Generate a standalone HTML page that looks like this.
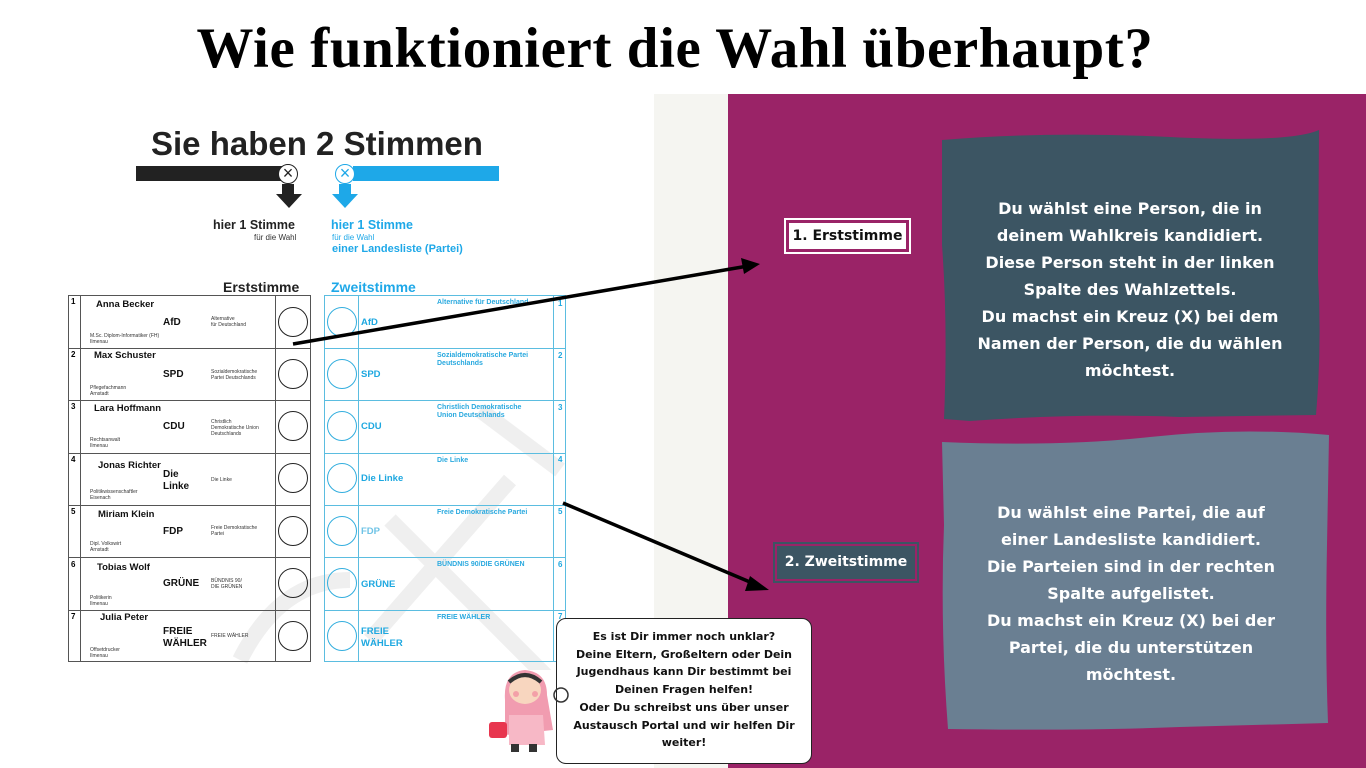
<!DOCTYPE html>
<html><head><meta charset="utf-8"><style>
*{margin:0;padding:0;box-sizing:border-box}
body{width:1366px;height:768px;position:relative;overflow:hidden;background:#fff;font-family:"Liberation Sans",sans-serif}
.a{position:absolute}
.t{font-family:"DejaVu Sans","Liberation Sans",sans-serif;font-weight:bold}
.row{position:absolute;left:68px;width:243px;height:52px;border-top:1.5px solid #555}
.rrow{position:absolute;left:324px;width:242px;height:52px;border-top:1.5px solid #5bbde0}
.circ{position:absolute;width:30px;height:30px;border:1.3px solid #222;border-radius:50%}
.bc{position:absolute;width:30px;height:30px;border:1.3px solid #33aede;border-radius:50%}
.nm{position:absolute;font-size:9.5px;font-weight:bold;color:#111}
.pt{position:absolute;font-size:10px;font-weight:bold;color:#111;line-height:12px}
.sm{position:absolute;font-size:5px;color:#333;line-height:6px}
.bl{position:absolute;font-size:9.5px;font-weight:bold;color:#1ea8e0;line-height:12px}
.bs{position:absolute;font-size:7px;font-weight:bold;color:#29a9df;line-height:8px}
.num{position:absolute;font-size:8px;font-weight:bold}
</style></head><body>
<div class="a" style="left:-8px;top:16px;width:1366px;text-align:center;font-family:'Liberation Serif',serif;font-weight:bold;font-size:57px;letter-spacing:0.6px;color:#000">Wie funktioniert die Wahl überhaupt?</div>
<div class="a" style="left:654px;top:94px;width:74px;height:674px;background:#f5f5f1"></div>
<div class="a" style="left:728px;top:94px;width:638px;height:674px;background:#9a2367"></div>

<div class="a" style="left:151px;top:125px;font-size:33px;font-weight:bold;color:#222">Sie haben 2 Stimmen</div>
<div class="a" style="left:136px;top:166px;width:146px;height:15px;background:#222"></div>
<div class="a" style="left:278px;top:164px;width:20px;height:20px;border-radius:50%;background:#fff;border:1.5px solid #222;font-size:18px;line-height:16px;text-align:center;color:#222">×</div>
<div class="a" style="left:282px;top:184px;width:12px;height:10px;background:#222"></div>
<div class="a" style="left:276px;top:194px;width:0;height:0;border-left:13px solid transparent;border-right:13px solid transparent;border-top:14px solid #222"></div>
<div class="a" style="left:353px;top:166px;width:146px;height:15px;background:#1ea8e8"></div>
<div class="a" style="left:335px;top:164px;width:20px;height:20px;border-radius:50%;background:#fff;border:1.5px solid #1ea8e8;font-size:18px;line-height:16px;text-align:center;color:#1ea8e8">×</div>
<div class="a" style="left:339px;top:184px;width:12px;height:10px;background:#1ea8e8"></div>
<div class="a" style="left:332px;top:194px;width:0;height:0;border-left:13px solid transparent;border-right:13px solid transparent;border-top:14px solid #1ea8e8"></div>
<div class="a" style="left:213px;top:218px;font-size:12.5px;font-weight:bold;color:#222">hier 1 Stimme</div>
<div class="a" style="left:254px;top:233px;font-size:8px;color:#333">für die Wahl</div>
<div class="a" style="left:331px;top:218px;font-size:12.5px;font-weight:bold;color:#1ea8e8">hier 1 Stimme</div>
<div class="a" style="left:332px;top:233px;font-size:8px;color:#1ea8e8">für die Wahl</div>
<div class="a" style="left:332px;top:243px;font-size:11px;font-weight:bold;color:#1ea8e8">einer Landesliste (Partei)</div>
<div class="a" style="left:223px;top:279px;font-size:14px;font-weight:bold;color:#222">Erststimme</div>
<div class="a" style="left:331px;top:279px;font-size:14px;font-weight:bold;color:#1ea8e8">Zweitstimme</div>

<svg class="a" style="left:220px;top:380px" width="360" height="290"><g stroke="#efefef" stroke-width="16" fill="none"><path d="M20 280 Q60 200 130 200"/><path d="M150 260 L290 100"/><path d="M170 140 L330 300"/><path d="M260 30 L340 90"/></g></svg>

<div class="a" style="left:68px;top:295px;width:243px;height:367px;border:1.5px solid #555"></div>
<div class="a" style="left:80px;top:295px;width:1px;height:367px;background:#555"></div>
<div class="a" style="left:275px;top:295px;width:1px;height:367px;background:#555"></div>
<div class="a" style="left:324px;top:295px;width:242px;height:367px;border:1.5px solid #5bbde0"></div>
<div class="a" style="left:358px;top:295px;width:1px;height:367px;background:#5bbde0"></div>
<div class="a" style="left:553px;top:295px;width:1px;height:367px;background:#5bbde0"></div>

<div class="row" style="top:348px"></div><div class="row" style="top:400px"></div><div class="row" style="top:453px"></div><div class="row" style="top:505px"></div><div class="row" style="top:557px"></div><div class="row" style="top:610px"></div>
<div class="rrow" style="top:348px"></div><div class="rrow" style="top:400px"></div><div class="rrow" style="top:453px"></div><div class="rrow" style="top:505px"></div><div class="rrow" style="top:557px"></div><div class="rrow" style="top:610px"></div>

<div class="num" style="left:71px;top:297px">1</div><div class="nm" style="left:96px;top:299px">Anna Becker</div><div class="pt" style="left:163px;top:317px">AfD</div><div class="sm" style="left:211px;top:316px">Alternative<br>für Deutschland</div><div class="sm" style="left:90px;top:333px">M.Sc. Diplom-Informatiker (FH)<br>Ilmenau</div>
<div class="circ" style="left:278px;top:307px"></div><div class="bc" style="left:327px;top:307px"></div><div class="bl" style="left:361px;top:317px">AfD</div><div class="bs" style="left:437px;top:299px">Alternative für Deutschland</div><div class="num" style="left:558px;top:299px;color:#1ea8e0">1</div>
<div class="num" style="left:71px;top:350px">2</div><div class="nm" style="left:94px;top:350px">Max Schuster</div><div class="pt" style="left:163px;top:369px">SPD</div><div class="sm" style="left:211px;top:369px">Sozialdemokratische<br>Partei Deutschlands</div><div class="sm" style="left:90px;top:385px">Pflegefachmann<br>Arnstadt</div>
<div class="circ" style="left:278px;top:359px"></div><div class="bc" style="left:327px;top:359px"></div><div class="bl" style="left:361px;top:369px">SPD</div><div class="bs" style="left:437px;top:352px">Sozialdemokratische Partei<br>Deutschlands</div><div class="num" style="left:558px;top:351px;color:#1ea8e0">2</div>
<div class="num" style="left:71px;top:402px">3</div><div class="nm" style="left:94px;top:403px">Lara Hoffmann</div><div class="pt" style="left:163px;top:421px">CDU</div><div class="sm" style="left:211px;top:419px">Christlich<br>Demokratische Union<br>Deutschlands</div><div class="sm" style="left:90px;top:437px">Rechtsanwalt<br>Ilmenau</div>
<div class="circ" style="left:278px;top:411px"></div><div class="bc" style="left:327px;top:411px"></div><div class="bl" style="left:361px;top:421px">CDU</div><div class="bs" style="left:437px;top:404px">Christlich Demokratische<br>Union Deutschlands</div><div class="num" style="left:558px;top:403px;color:#1ea8e0">3</div>
<div class="num" style="left:71px;top:455px">4</div><div class="nm" style="left:98px;top:460px">Jonas Richter</div><div class="pt" style="left:163px;top:469px">Die<br>Linke</div><div class="sm" style="left:211px;top:477px">Die Linke</div><div class="sm" style="left:90px;top:489px">Politikwissenschaftler<br>Eisenach</div>
<div class="circ" style="left:278px;top:463px"></div><div class="bc" style="left:327px;top:463px"></div><div class="bl" style="left:361px;top:473px">Die Linke</div><div class="bs" style="left:437px;top:457px">Die Linke</div><div class="num" style="left:558px;top:455px;color:#1ea8e0">4</div>
<div class="num" style="left:71px;top:507px">5</div><div class="nm" style="left:98px;top:509px">Miriam Klein</div><div class="pt" style="left:163px;top:526px">FDP</div><div class="sm" style="left:211px;top:525px">Freie Demokratische<br>Partei</div><div class="sm" style="left:90px;top:541px">Dipl. Volkswirt<br>Arnstadt</div>
<div class="circ" style="left:278px;top:516px"></div><div class="bc" style="left:327px;top:516px"></div><div class="bl" style="left:361px;top:526px;color:#6fc3e6">FDP</div><div class="bs" style="left:437px;top:509px">Freie Demokratische Partei</div><div class="num" style="left:558px;top:507px;color:#1ea8e0">5</div>
<div class="num" style="left:71px;top:560px">6</div><div class="nm" style="left:97px;top:562px">Tobias Wolf</div><div class="pt" style="left:163px;top:578px">GRÜNE</div><div class="sm" style="left:211px;top:578px">BÜNDNIS 90/<br>DIE GRÜNEN</div><div class="sm" style="left:90px;top:595px">Politikerin<br>Ilmenau</div>
<div class="circ" style="left:278px;top:568px"></div><div class="bc" style="left:327px;top:568px"></div><div class="bl" style="left:361px;top:579px">GRÜNE</div><div class="bs" style="left:437px;top:561px">BÜNDNIS 90/DIE GRÜNEN</div><div class="num" style="left:558px;top:560px;color:#1ea8e0">6</div>
<div class="num" style="left:71px;top:612px">7</div><div class="nm" style="left:100px;top:612px">Julia Peter</div><div class="pt" style="left:163px;top:626px">FREIE<br>WÄHLER</div><div class="sm" style="left:211px;top:633px">FREIE WÄHLER</div><div class="sm" style="left:90px;top:647px">Offsetdrucker<br>Ilmenau</div>
<div class="circ" style="left:278px;top:621px"></div><div class="bc" style="left:327px;top:621px"></div><div class="bl" style="left:361px;top:626px">FREIE<br>WÄHLER</div><div class="bs" style="left:437px;top:614px">FREIE WÄHLER</div><div class="num" style="left:558px;top:612px;color:#1ea8e0">7</div>

<svg class="a" style="left:0;top:0" width="1366" height="768">
<line x1="293" y1="344" x2="748" y2="266" stroke="#000" stroke-width="3.5"/>
<polygon points="760,264 741,258 744,274" fill="#000"/>
<line x1="563" y1="503" x2="757" y2="585" stroke="#000" stroke-width="3.5"/>
<polygon points="769,590 750,576 745,591" fill="#000"/>
</svg>

<div class="a t" style="left:784px;top:218px;width:127px;height:36px;border:2px solid #fff;padding:2px"><div style="width:100%;height:100%;background:#fff;border:1.5px solid #9a2367;font-size:14px;line-height:27px;text-align:center;color:#111">1. Erststimme</div></div>
<div class="a t" style="left:773px;top:542px;width:146px;height:41px;border:2px solid #3c5563;padding:2px"><div style="width:100%;height:100%;background:#3c5563;font-size:14px;line-height:33px;text-align:center;color:#fff">2. Zweitstimme</div></div>

<svg class="a" style="left:930px;top:125px" width="410" height="615">
<path d="M12 15 Q120 6 240 12 T389 5 L388 150 Q392 220 386 290 L250 292 Q150 288 40 296 L14 294 Q18 200 12 120 Z" fill="#3c5563"/>
<path d="M12 317 Q130 322 220 312 T399 310 L397 420 Q395 520 398 598 L250 602 Q150 606 18 604 Q10 500 14 400 Z" fill="#6a7f92"/>
</svg>
<div class="a t" style="left:945px;top:195px;width:370px;text-align:center;color:#fff;font-size:16px;line-height:27px">Du wählst eine Person, die in<br>deinem Wahlkreis kandidiert.<br>Diese Person steht in der linken<br>Spalte des Wahlzettels.<br>Du machst ein Kreuz (X) bei dem<br>Namen der Person, die du wählen<br>möchtest.</div>
<div class="a t" style="left:946px;top:499px;width:370px;text-align:center;color:#fff;font-size:16px;line-height:27px">Du wählst eine Partei, die auf<br>einer Landesliste kandidiert.<br>Die Parteien sind in der rechten<br>Spalte aufgelistet.<br>Du machst ein Kreuz (X) bei der<br>Partei, die du unterstützen<br>möchtest.</div>

<div class="a t" style="left:556px;top:618px;width:256px;height:146px;background:#fff;border:1.5px solid #222;border-radius:10px;text-align:center;font-size:11px;line-height:17.7px;color:#111;padding-top:9px">Es ist Dir immer noch unklar?<br>Deine Eltern, Großeltern oder Dein<br>Jugendhaus kann Dir bestimmt bei<br>Deinen Fragen helfen!<br>Oder Du schreibst uns über unser<br>Austausch Portal und wir helfen Dir<br>weiter!</div>

<svg class="a" style="left:485px;top:660px" width="90" height="100">
<path d="M20 40 Q18 12 40 10 Q62 12 62 35 L68 70 L20 75 Z" fill="#f19cb0"/>
<ellipse cx="40" cy="30" rx="16" ry="14" fill="#f8d6bf"/>
<path d="M24 22 Q40 8 56 22" stroke="#333" stroke-width="4" fill="none"/>
<circle cx="31" cy="34" r="3" fill="#f3a0a8"/><circle cx="50" cy="34" r="3" fill="#f3a0a8"/>
<rect x="4" y="62" width="18" height="16" rx="3" fill="#e8364f"/>
<path d="M24 55 L58 55 L60 85 L24 85 Z" fill="#f7b8c6"/>
<rect x="26" y="84" width="8" height="8" fill="#333"/><rect x="44" y="84" width="8" height="8" fill="#333"/>
<circle cx="76" cy="35" r="7" fill="none" stroke="#333" stroke-width="1.5"/>
</svg>
</body></html>
